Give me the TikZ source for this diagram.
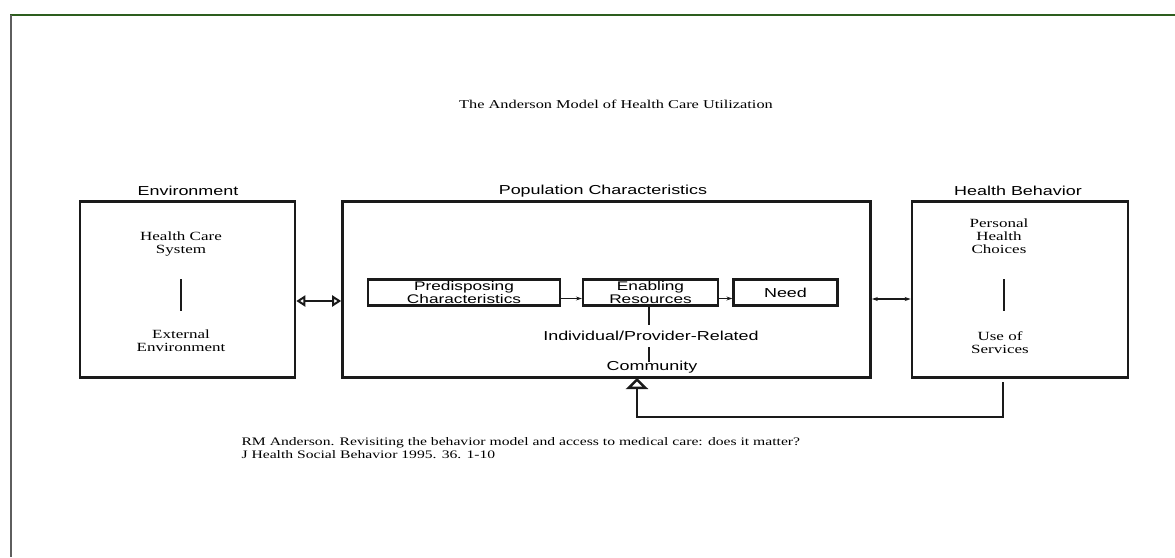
\documentclass[tikz,border=0pt]{standalone}
\usepackage{fontspec}
\setmainfont{Liberation Serif}
\setsansfont{Liberation Sans}
\newfontfamily\wideserif[FakeStretch=1.36]{Liberation Serif}
\newfontfamily\widesans[FakeStretch=1.38]{Liberation Sans}
\usetikzlibrary{arrows.meta,positioning,calc}
\definecolor{framegreen}{HTML}{2D5E1E}
\definecolor{framegrey}{HTML}{5E5E5E}
\definecolor{ink}{HTML}{1A1A1A}
\tikzset{
  bigbox/.style={rectangle,draw=ink,line width=2.6pt,inner sep=0pt},
  innerbox/.style={rectangle,draw=ink,line width=2.2pt,inner sep=0pt,align=center,font=\widesans\fontsize{12.5}{12.5}\selectfont},
  head/.style={font=\widesans\fontsize{13}{14}\selectfont},
  serifnote/.style={font=\wideserif\fontsize{12.5}{13}\selectfont,align=center},
  sansnote/.style={font=\widesans\fontsize{13}{14}\selectfont,align=center},
  bar/.style={draw=ink,line width=2.6pt},
  openarrow/.style={{Triangle[open,length=9pt,width=11pt]}-{Triangle[open,length=9pt,width=11pt]},line width=2pt,ink},
  thinarrow/.style={-{Stealth[length=6pt,width=4pt]},line width=1.1pt,ink},
  feedback/.style={-{Triangle[open,length=11pt,width=22pt]},line width=2.4pt,ink}
}

\begin{document}
\begin{tikzpicture}[x=1pt,y=-1pt]
        \useasboundingbox (0,0) rectangle (1175,557);
        \fill[white] (0,0) rectangle (1175,557);
        % page frame
        \draw[framegreen,line width=2pt] (10,14.5) -- (1175,14.5);
        \draw[framegrey,line width=2pt] (11,14.5) -- (11,557);
        \node[font=\wideserif\fontsize{12}{14}\selectfont] (title) at (616,104) {The Anderson Model of Health Care Utilization};
        % three main boxes
        \node[bigbox,minimum width=215pt,minimum height=176pt] (env) at (187.5,289.5) {};
        \node[bigbox,minimum width=528pt,minimum height=176pt] (pop) at (606.5,289.5) {};
        \node[bigbox,minimum width=216pt,minimum height=176pt] (hb) at (1020,289.5) {};
        \node[head,anchor=center] (envlbl) at (188,191) {Environment};
        \node[head,anchor=center] (poplbl) at (603,191) {Population Characteristics};
        \node[head,anchor=center] (hblbl) at (1018,191) {Health Behavior};
        % environment
        \node[serifnote] (hcs) at (181,244.5) {Health Care\\System};
        \node[serifnote] (ext) at (181,340.5) {External\\Environment};
        \coordinate (envtop) at (181,279);
        \coordinate (envbot) at (181,311);
        \draw[bar] (envtop) -- (envbot);
        % population characteristics
        \node[innerbox,minimum width=192pt,minimum height=26pt] (pred) at (464,292.5) {Predisposing\\Characteristics};
        \node[innerbox,minimum width=135pt,minimum height=26pt] (enab) at (650.5,292.5) {Enabling\\Resources};
        \node[innerbox,minimum width=104pt,minimum height=26pt,font=\widesans\fontsize{13}{13}\selectfont] (need) at (785.5,292.5) {Need};
        \draw[thinarrow] ([yshift=-6pt]pred.east) -- ([yshift=-6pt]enab.west);
        \draw[thinarrow] ([yshift=-6pt]enab.east) -- ([yshift=-6pt]need.west);
        \node[sansnote] (indiv) at (651,336) {Individual/Provider-Related};
        \node[sansnote] (comm) at (652,367) {Community};
        \coordinate (indtop) at (649,347);
        \coordinate (indbot) at (649,362);
        \draw[bar] ($(enab.south)+(-1.5,0)$) -- (649,325);
        \draw[bar] (indtop) -- (indbot);
        % health behavior
        \node[serifnote] (phc) at (999,236) {Personal\\Health\\Choices};
        \node[serifnote] (use) at (1000,343) {Use of\\Services};
        \coordinate (hbtop) at (1004,279);
        \coordinate (hbbot) at (1004,311);
        \draw[bar] (hbtop) -- (hbbot);
        % links between boxes
        \draw[openarrow] (env.east |- 0,301) -- (pop.west |- 0,301);
        \draw[{Stealth[length=6pt,width=4pt]}-{Stealth[length=6pt,width=4pt]},line width=1.1pt,ink] (pop.east |- 0,299) -- (hb.west |- 0,299);
        \coordinate (fbstart) at (1003,382);
        \coordinate (fbend) at (637,378);
        \draw[feedback,line join=miter] (fbstart) -- (1003,417) -- (637,417) -- (fbend);
        % reference
        \node[font=\wideserif\fontsize{11.5}{12.5}\selectfont,align=left,anchor=north west] (cite) at (238,434) {RM Anderson. Revisiting the behavior model and access to medical care: does it matter?\\J Health Social Behavior 1995. 36. 1-10};
      \end{tikzpicture}
\end{document}
